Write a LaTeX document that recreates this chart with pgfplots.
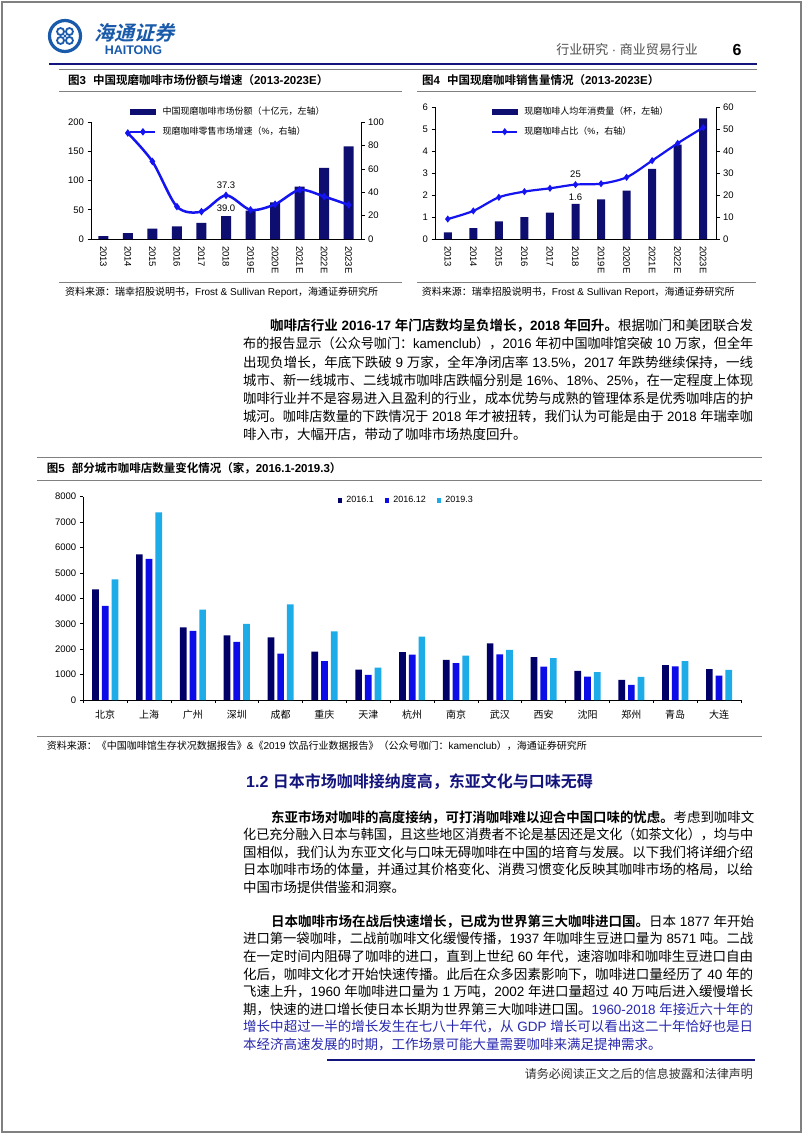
\documentclass[border=0pt]{standalone}
\usepackage{fontspec}
\usepackage{graphicx}
\usepackage{pgfplots}
\pgfplotsset{compat=1.18}
\setmainfont{Liberation Sans}
\newfontfamily\latinf{Liberation Sans}
\newfontfamily\cjk{Noto Sans CJK SC}[BoldFont={Noto Sans CJK SC Bold}]
\XeTeXinterchartokenstate=1
\newXeTeXintercharclass\cjkclass
\newcount\tmpc
\tmpc="2E80\relax
\loop\XeTeXcharclass\tmpc=\cjkclass\relax\ifnum\tmpc<"9FFF\relax\advance\tmpc by 1\relax\repeat
\tmpc="FF00\relax
\loop\XeTeXcharclass\tmpc=\cjkclass\relax\ifnum\tmpc<"FFEF\relax\advance\tmpc by 1\relax\repeat
\XeTeXinterchartoks 0 \cjkclass = {\cjk}
\XeTeXinterchartoks 4095 \cjkclass = {\cjk}
\XeTeXinterchartoks \cjkclass 0 = {\latinf}
\XeTeXinterchartoks \cjkclass 4095 = {\latinf}

\definecolor{navyA}{RGB}{14,14,112}
\definecolor{lineblue}{RGB}{20,20,240}
\definecolor{sA}{RGB}{0,0,102}
\definecolor{sB}{RGB}{12,12,232}
\definecolor{sC}{RGB}{30,172,232}
\definecolor{rulegray}{RGB}{128,128,128}
\definecolor{headnavy}{RGB}{20,20,125}
\definecolor{logoblue}{RGB}{25,90,170}
\definecolor{bluetext}{RGB}{40,40,175}

\newcommand\fs[2]{\fontsize{#1}{#2}\selectfont}
\newcommand\jl[1]{\resizebox{510pt}{\height}{#1}}
\newcommand\jli[1]{\resizebox{483pt}{\height}{#1}}
\newcommand\tline[3]{\node[anchor=base west, inner sep=0pt, font=\fs{13.5}{16}] at (#1pt,-#2pt) {#3};}

\pgfplotsset{
  pagechart/.style={
    scale only axis, clip=false,
    tick align=outside, major tick length=3.5pt,
    /pgf/number format/assume math mode=true,
    /pgf/number format/1000 sep={},
    tick label style={font=\fs{9.5}{10}},
    axis line style={black, line width=0.6pt},
    tick style={black, line width=0.6pt},
  },
  linelegend/.style={legend image code/.code={\draw[##1, mark repeat=2, mark phase=2] plot coordinates {(0pt,0pt) (12.5pt,0pt) (25pt,0pt)};}},
  sqlegend/.style={legend image code/.code={\fill[##1] (0pt,-2.2pt) rectangle (4.4pt,2.2pt);}},
  barlegend/.style={legend image code/.code={\fill[navyA] (0pt,-2.6pt) rectangle (25pt,2.6pt);}},
}

\begin{document}
\begin{tikzpicture}
\fill[white] (0pt,0pt) rectangle (802pt,-1133pt);
\path[use as bounding box] (0pt,0pt) rectangle (802pt,-1133pt);
\draw[gray, line width=2pt] (1.5pt,-1.5pt) rectangle (800.5pt,-1131.5pt);

% ---------- header ----------
\draw[logoblue, line width=3.2pt] (65pt,-36pt) circle (15.5pt);
\foreach \a in {45,135,225,315}{
  \draw[logoblue, line width=1.8pt, shift={(65pt,-36pt)}] (\a:6.3pt) circle (3.5pt);
}
\fill[logoblue] (65pt,-36pt) circle (1.6pt);
\begin{scope}[shift={(136pt,-33pt)}, xslant=0.25]
\node[transform shape, inner sep=0pt, font=\fs{20}{22}\bfseries, text=logoblue] at (0,0) {海通证券};
\end{scope}
\node[inner sep=0pt, font=\fs{12.5}{14}\bfseries, text=logoblue] at (133.5pt,-50pt) {HAITONG};
\node[anchor=east, inner sep=0pt, font=\fs{13}{14}, text=black!70] at (698pt,-50pt) {行业研究 · 商业贸易行业};
\node[inner sep=0pt, font=\fs{16}{18}\bfseries] at (737pt,-50pt) {6};
\draw[headnavy, line width=2.5pt] (49pt,-64pt) -- (757pt,-64pt);
\draw[rulegray, line width=0.8pt] (59pt,-69pt) -- (757pt,-69pt);

% ---------- figure 3 / 4 titles ----------
\node[anchor=west, inner sep=0pt, font=\fs{11.5}{13}\bfseries] at (68pt,-80pt) {图3\hspace{7pt}中国现磨咖啡市场份额与增速（2013-2023E）};
\node[anchor=west, inner sep=0pt, font=\fs{11.5}{13}\bfseries] at (422pt,-80pt) {图4\hspace{7pt}中国现磨咖啡销售量情况（2013-2023E）};
\draw[rulegray, line width=0.8pt] (59pt,-91.7pt) -- (401.5pt,-91.7pt);
\draw[rulegray, line width=0.8pt] (417pt,-91.7pt) -- (756pt,-91.7pt);
\draw[rulegray, line width=0.8pt] (59pt,-282pt) -- (401.5pt,-282pt);
\draw[rulegray, line width=0.8pt] (417pt,-282pt) -- (756pt,-282pt);
\node[anchor=west, inner sep=0pt, font=\fs{10}{12}] at (65pt,-292pt) {资料来源：瑞幸招股说明书，Frost \& Sullivan Report，海通证券研究所};
\node[anchor=west, inner sep=0pt, font=\fs{10}{12}] at (421.7pt,-292pt) {资料来源：瑞幸招股说明书，Frost \& Sullivan Report，海通证券研究所};

% ---------- chart 1 ----------
\begin{axis}[pagechart,
  at={(91pt,-239pt)}, anchor=south west,
  width=270pt, height=117pt,
  xmin=-0.5, xmax=10.5, ymin=0, ymax=200,
  axis x line*=bottom, axis y line*=left,
  ytick={0,50,...,200},
  xtick={0,...,10},
  xticklabels={2013,2014,2015,2016,2017,2018,2019E,2020E,2021E,2022E,2023E},
  x tick label style={rotate=-90, anchor=west},
  major x tick style={draw=none},
  ybar, bar width=10pt,
]
\addplot[fill=navyA, draw=none] coordinates {(0,5) (1,10) (2,17.7) (3,21.7) (4,27.4) (5,39) (6,48.6) (7,62.8) (8,89.7) (9,121.7) (10,158.2)};
\node[font=\fs{9.5}{10}, inner sep=1pt, above=3pt] at (axis cs:5,39) {39.0};
\end{axis}
\begin{axis}[pagechart,
  at={(91pt,-239pt)}, anchor=south west,
  width=270pt, height=117pt,
  xmin=-0.5, xmax=10.5, ymin=0, ymax=100,
  axis x line=none, axis y line*=right,
  ytick={0,20,...,100},
  legend style={at={(0.1407,1.147)}, anchor=north west, draw=none, fill=none, inner sep=0pt,
    font=\fs{9}{10}, row sep=7pt,
    /tikz/every odd column/.append style={column sep=4pt}},
  legend cell align=left,
]
\addlegendimage{barlegend}
\addlegendentry{中国现磨咖啡市场份额（十亿元，左轴）}
\addplot[lineblue, line width=2.5pt, smooth, mark=diamond*, mark size=1.8pt, linelegend]
  coordinates {(1,90.6) (2,66.3) (3,27.7) (4,23.4) (5,37.3) (6,24.9) (7,29.7) (8,42) (9,36.3) (10,29.1)};
\addlegendentry{现磨咖啡零售市场增速（\%，右轴）}
\node[font=\fs{9.5}{10}, inner sep=1pt, above=6pt] at (axis cs:5,37.3) {37.3};
\end{axis}

% ---------- chart 2 ----------
\begin{axis}[pagechart,
  at={(435pt,-239pt)}, anchor=south west,
  width=281pt, height=131.7pt,
  xmin=-0.5, xmax=10.5, ymin=0, ymax=6,
  axis x line*=bottom, axis y line*=left,
  ytick={0,1,...,6},
  xtick={0,...,10},
  xticklabels={2013,2014,2015,2016,2017,2018,2019E,2020E,2021E,2022E,2023E},
  x tick label style={rotate=-90, anchor=west},
  major x tick style={draw=none},
  ybar, bar width=8pt,
]
\addplot[fill=navyA, draw=none] coordinates {(0,0.3) (1,0.5) (2,0.8) (3,1.0) (4,1.2) (5,1.6) (6,1.8) (7,2.2) (8,3.2) (9,4.3) (10,5.5)};
\node[font=\fs{9.5}{10}, inner sep=1pt, above=2pt] at (axis cs:5,1.6) {1.6};
\end{axis}
\begin{axis}[pagechart,
  at={(435pt,-239pt)}, anchor=south west,
  width=281pt, height=131.7pt,
  xmin=-0.5, xmax=10.5, ymin=0, ymax=60,
  axis x line=none, axis y line*=right,
  ytick={0,10,...,60},
  legend style={at={(0.199,1.02)}, anchor=north west, draw=none, fill=none, inner sep=0pt,
    font=\fs{9}{10}, row sep=7pt,
    /tikz/every odd column/.append style={column sep=4pt}},
  legend cell align=left,
]
\addlegendimage{barlegend}
\addlegendentry{现磨咖啡人均年消费量（杯，左轴）}
\addplot[lineblue, line width=2.2pt, smooth, mark=diamond*, mark size=1.8pt, linelegend]
  coordinates {(0,9.1) (1,12.8) (2,19.0) (3,21.6) (4,23.1) (5,24.8) (6,25.2) (7,28.1) (8,35.7) (9,43.6) (10,50.8)};
\addlegendentry{现磨咖啡占比（\%，右轴）}
\node[font=\fs{9.5}{10}, inner sep=1pt, above=6pt] at (axis cs:5,24.8) {25};
\end{axis}

% ---------- paragraph 1 ----------
\tline{270}{330.6}{\jli{{\bfseries 咖啡店行业 2016-17 年门店数均呈负增长，2018 年回升。}\cjk 根据咖门和美团联合发}}
\tline{243}{348.8}{\jl{布的报告显示（公众号咖门：kamenclub），2016 年初中国咖啡馆突破 10 万家，但全年}}
\tline{243}{367.0}{\jl{出现负增长，年底下跌破 9 万家，全年净闭店率 13.5\%，2017 年跌势继续保持，一线}}
\tline{243}{385.2}{\jl{城市、新一线城市、二线城市咖啡店跌幅分别是 16\%、18\%、25\%，在一定程度上体现}}
\tline{243}{403.4}{\jl{咖啡行业并不是容易进入且盈利的行业，成本优势与成熟的管理体系是优秀咖啡店的护}}
\tline{243}{421.6}{\jl{城河。咖啡店数量的下跌情况于 2018 年才被扭转，我们认为可能是由于 2018 年瑞幸咖}}
\tline{243}{439.8}{啡入市，大幅开店，带动了咖啡市场热度回升。}

% ---------- figure 5 ----------
\draw[rulegray, line width=0.8pt] (37pt,-457pt) -- (762pt,-457pt);
\node[anchor=west, inner sep=0pt, font=\fs{11.5}{13}\bfseries] at (46.7pt,-468.5pt) {图5\hspace{7pt}部分城市咖啡店数量变化情况（家，2016.1-2019.3）};
\draw[rulegray, line width=0.8pt] (37pt,-480.7pt) -- (762pt,-480.7pt);
\draw[rulegray, line width=0.8pt] (37pt,-736pt) -- (762pt,-736pt);
\node[anchor=west, inner sep=0pt, font=\fs{10}{12}] at (46.7pt,-745.5pt) {资料来源：《中国咖啡馆生存状况数据报告》\&《2019 饮品行业数据报告》（公众号咖门：kamenclub），海通证券研究所};

\begin{axis}[pagechart,
  at={(83.3pt,-700pt)}, anchor=south west,
  width=657.7pt, height=203.3pt,
  xmin=-0.5, xmax=14.5, ymin=0, ymax=8000,
  axis x line*=bottom, axis y line*=left,
  ytick={0,1000,...,8000},
  xtick={0,...,14},
  xticklabels={北京,上海,广州,深圳,成都,重庆,天津,杭州,南京,武汉,西安,沈阳,郑州,青岛,大连},
  x tick label style={font=\fs{10}{11}, yshift=-3pt},
  minor xtick={-0.5,0.5,...,14.5},
  major x tick style={draw=none},
  minor x tick style={black, line width=0.6pt},
  minor tick length=3pt,
  ybar=3pt, bar width=6.7pt,
  legend columns=3,
  legend style={at={(0.387,1.012)}, anchor=north west, draw=none, fill=none, inner sep=0pt,
    font=\fs{9}{10},
    /tikz/every odd column/.append style={column sep=2pt},
    /tikz/every even column/.append style={column sep=9pt}},
  sqlegend,
]
\addplot[fill=sA, draw=none] coordinates {(0,4350) (1,5730) (2,2860) (3,2540) (4,2460) (5,1900) (6,1200) (7,1880) (8,1580) (9,2230) (10,1690) (11,1150) (12,790) (13,1370) (14,1220)};
\addlegendentry{2016.1}
\addplot[fill=sB, draw=none] coordinates {(0,3700) (1,5550) (2,2720) (3,2290) (4,1830) (5,1530) (6,990) (7,1790) (8,1450) (9,1800) (10,1310) (11,920) (12,600) (13,1320) (14,960)};
\addlegendentry{2016.12}
\addplot[fill=sC, draw=none] coordinates {(0,4750) (1,7380) (2,3560) (3,3000) (4,3760) (5,2700) (6,1270) (7,2490) (8,1750) (9,1970) (10,1650) (11,1100) (12,910) (13,1530) (14,1190)};
\addlegendentry{2019.3}
\end{axis}

% ---------- section 1.2 ----------
\node[anchor=west, inner sep=0pt, font=\fs{16}{18}\bfseries, text=headnavy] at (246pt,-781.3pt) {1.2 日本市场咖啡接纳度高，东亚文化与口味无碍};

\tline{271}{822.4}{\jli{{\bfseries 东亚市场对咖啡的高度接纳，可打消咖啡难以迎合中国口味的忧虑。}\cjk 考虑到咖啡文}}
\tline{243}{839.8}{\jl{化已充分融入日本与韩国，且这些地区消费者不论是基因还是文化（如茶文化），均与中}}
\tline{243}{857.4}{\jl{国相似，我们认为东亚文化与口味无碍咖啡在中国的培育与发展。以下我们将详细介绍}}
\tline{243}{874.8}{\jl{日本咖啡市场的体量，并通过其价格变化、消费习惯变化反映其咖啡市场的格局，以给}}
\tline{243}{892.1}{中国市场提供借鉴和洞察。}

\tline{271}{926.4}{\jli{{\bfseries 日本咖啡市场在战后快速增长，已成为世界第三大咖啡进口国。}\cjk 日本 1877 年开始}}
\tline{243}{943.9}{\jl{进口第一袋咖啡，二战前咖啡文化缓慢传播，1937 年咖啡生豆进口量为 8571 吨。二战}}
\tline{243}{961.4}{\jl{在一定时间内阻碍了咖啡的进口，直到上世纪 60 年代，速溶咖啡和咖啡生豆进口自由}}
\tline{243}{979.0}{\jl{化后，咖啡文化才开始快速传播。此后在众多因素影响下，咖啡进口量经历了 40 年的}}
\tline{243}{996.5}{\jl{飞速上升，1960 年咖啡进口量为 1 万吨，2002 年进口量超过 40 万吨后进入缓慢增长}}
\tline{243}{1014.0}{\jl{期，快速的进口增长使日本长期为世界第三大咖啡进口国。{\color{bluetext}\latinf 1960-2018 年接近六十年的}}}
\tline{243}{1031.5}{\color{bluetext}\jl{增长中超过一半的增长发生在七八十年代，从 GDP 增长可以看出这二十年恰好也是日}}
\tline{243}{1049.0}{\color{bluetext}本经济高速发展的时期，工作场景可能大量需要咖啡来满足提神需求。}

% ---------- footer ----------
\draw[headnavy, line width=2pt] (327pt,-1060pt) -- (755pt,-1060pt);
\node[anchor=east, inner sep=0pt, font=\fs{12}{13}, text=black!80] at (753pt,-1074pt) {请务必阅读正文之后的信息披露和法律声明};
\end{tikzpicture}
\end{document}
